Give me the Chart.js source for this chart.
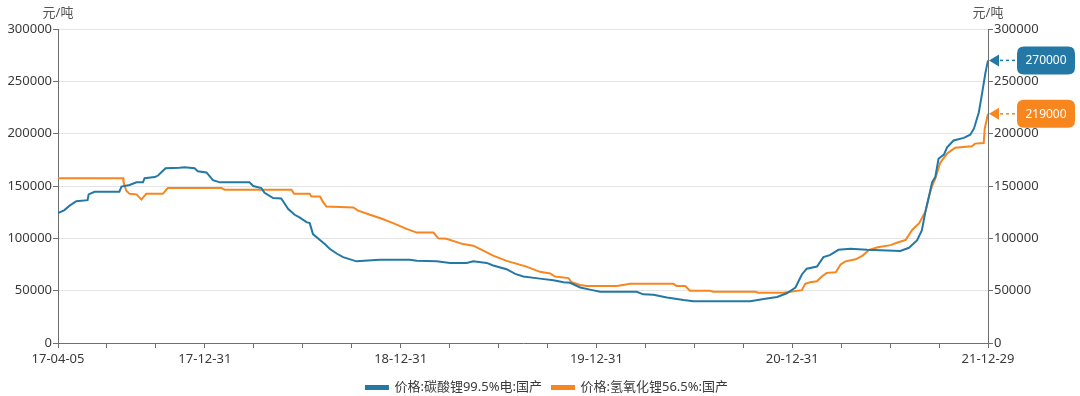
<!DOCTYPE html>
<html>
<head>
<meta charset="utf-8">
<script src="https://cdn.jsdelivr.net/npm/chart.js@4.4.1/dist/chart.umd.min.js"></script>
<style>
  html, body { margin: 0; padding: 0; background: #ffffff; }
  #wrap { width: 1080px; height: 396px; }
</style>
</head>
<body>
<div id="wrap"><canvas id="c" width="1080" height="396"></canvas></div>
<script>
// Day offsets counted from 2017-04-05
const xMax = 1729;
const tickLabels = ["17-04-05","","","17-12-31","","","","18-12-31","","","","19-12-31","","","","20-12-31","","","","21-12-29"];
const yTicks = [0, 50000, 100000, 150000, 200000, 250000, 300000];
const unitLabel = "元/吨";

const carbName = "价格:碳酸锂99.5%电:国产";
const carbDays = [0,12,21,34,55,57,68,114,118,133,146,158,161,180,186,200,226,235,254,260,276,288,301,356,363,378,384,400,415,428,440,449,462,468,474,487,496,505,518,530,555,598,654,667,704,729,760,772,797,809,834,850,865,896,921,940,952,971,989,1008,1076,1088,1107,1132,1163,1181,1287,1312,1337,1355,1371,1383,1392,1411,1423,1435,1451,1473,1504,1566,1582,1597,1606,1613,1619,1625,1631,1637,1647,1653,1665,1684,1696,1703,1712,1718,1724,1729];
const carbPrice = [124000,127000,131000,135500,136500,142000,144500,144500,149500,151000,153500,153500,157500,158500,160000,167000,167500,168000,167000,164000,163000,155500,153500,153500,150000,148000,143500,138500,138000,128000,122500,120000,115500,114500,104000,98500,94500,90000,85500,82000,78000,79500,79500,78500,78000,76500,76500,78000,76500,74000,70500,66000,63500,61500,60000,58000,57500,53000,51000,49000,49000,46500,46000,43500,41000,40000,40000,42000,44000,47500,53000,65500,71000,73000,82000,84000,89000,90000,89000,88000,91000,98000,107500,126500,139500,153500,158500,176000,180000,187000,193500,196000,199000,205000,220500,238500,257500,270000];

const hydName = "价格:氢氧化锂56.5%:国产";
const hydDays = [0,121,122,127,133,146,155,164,195,204,304,310,434,439,468,471,487,493,499,549,558,580,601,623,648,667,698,707,722,753,772,788,809,834,871,896,915,924,949,955,971,983,1039,1064,1144,1150,1166,1175,1212,1218,1296,1302,1349,1361,1383,1389,1398,1411,1420,1429,1446,1455,1464,1483,1496,1508,1524,1548,1561,1576,1588,1601,1613,1619,1625,1631,1640,1653,1661,1668,1699,1705,1721,1723,1729];
const hydPrice = [157500,157500,153500,145500,142500,142000,137000,142500,142500,148000,148000,146500,146500,142500,142500,140000,140000,134500,130500,129500,126500,122500,119000,114500,109000,105500,105500,100000,99500,94500,93000,89000,83500,78500,73000,68000,66500,63500,62000,58000,55500,54500,54500,56500,56500,54500,54500,50000,50000,49000,49000,48000,48000,49000,50500,56500,58000,59000,63500,67000,67500,75000,78000,80000,83500,89000,91500,93500,96000,98500,108000,114500,126000,139500,150000,157000,172000,181000,184000,186500,188000,190500,191000,205000,219000];

const blue = "#2478a6";
const orange = "#f7861f";
const FONT = '"Noto Sans", "Noto Sans CJK SC", sans-serif';
const axisColor = "#6e6e6e";
const textColor = "#3a3a3a";

function pts(days, vals) { return days.map((d, i) => ({ x: d, y: vals[i] })); }

const unitPlugin = {
  id: "unitTitles",
  afterDraw(chart) {
    const { ctx, chartArea } = chart;
    ctx.save();
    ctx.font = "13px " + FONT;
    ctx.fillStyle = "#555";
    ctx.textAlign = "center";
    ctx.textBaseline = "middle";
    ctx.fillText(unitLabel, chartArea.left, 13);
    ctx.fillText(unitLabel, chartArea.right, 13);
    ctx.restore();
  }
};

const legendShift = {
  id: "legendShift",
  afterLayout(chart) {
    if (chart.legend) { chart.legend.left += 7; chart.legend.right += 7; }
  }
};

function roundRect(ctx, x, y, w, h, r) {
  ctx.beginPath();
  ctx.moveTo(x + r, y);
  ctx.lineTo(x + w - r, y);
  ctx.quadraticCurveTo(x + w, y, x + w, y + r);
  ctx.lineTo(x + w, y + h - r);
  ctx.quadraticCurveTo(x + w, y + h, x + w - r, y + h);
  ctx.lineTo(x + r, y + h);
  ctx.quadraticCurveTo(x, y + h, x, y + h - r);
  ctx.lineTo(x, y + r);
  ctx.quadraticCurveTo(x, y, x + r, y);
  ctx.closePath();
}

const endTagPlugin = {
  id: "endTags",
  afterDatasetsDraw(chart) {
    const { ctx, chartArea } = chart;
    chart.data.datasets.forEach((ds, i) => {
      const meta = chart.getDatasetMeta(i);
      const last = meta.data[meta.data.length - 1];
      const val = ds.data[ds.data.length - 1].y;
      const y = last.y;
      const x0 = chartArea.right + 1;
      ctx.save();
      ctx.fillStyle = ds.borderColor;
      ctx.beginPath();
      ctx.moveTo(x0, y);
      ctx.lineTo(x0 + 10, y - 6);
      ctx.lineTo(x0 + 10, y + 6);
      ctx.closePath();
      ctx.fill();
      ctx.strokeStyle = ds.borderColor;
      ctx.lineWidth = 1.5;
      ctx.setLineDash([3, 3]);
      ctx.beginPath();
      ctx.moveTo(x0 + 11, y);
      ctx.lineTo(x0 + 28, y);
      ctx.stroke();
      ctx.setLineDash([]);
      const bx = x0 + 28, bw = 58, bh = 28;
      roundRect(ctx, bx, y - bh / 2, bw, bh, 7);
      ctx.fill();
      ctx.fillStyle = "#ffffff";
      ctx.font = "12px " + FONT;
      ctx.textAlign = "center";
      ctx.textBaseline = "middle";
      ctx.fillText(String(val), bx + bw / 2, y + 0.5);
      ctx.restore();
    });
  }
};

const yCommon = {
  min: 0, max: 300000,
  afterBuildTicks(scale) { scale.ticks = yTicks.map(v => ({ value: v })); },
  border: { display: true, color: axisColor, width: 1 },
  ticks: { color: textColor, font: { size: 13, family: FONT }, padding: 1, callback: (v) => String(v) },
};

new Chart(document.getElementById("c"), {
  type: "line",
  data: {
    datasets: [
      { label: carbName, data: pts(carbDays, carbPrice), borderColor: blue, backgroundColor: blue, borderWidth: 2, pointRadius: 0, tension: 0, yAxisID: "y" },
      { label: hydName, data: pts(hydDays, hydPrice), borderColor: orange, backgroundColor: orange, borderWidth: 2, pointRadius: 0, tension: 0, yAxisID: "y" }
    ]
  },
  options: {
    responsive: false,
    animation: false,
    layout: { padding: { top: 29, left: 0, right: 0, bottom: -8 } },
    plugins: {
      legend: {
        position: "bottom",
        labels: { boxWidth: 22, boxHeight: 3, padding: 10, color: textColor, font: { size: 13, family: FONT } }
      },
      tooltip: { enabled: false }
    },
    scales: {
      x: {
        type: "linear", min: 0, max: xMax,
        afterBuildTicks(scale) {
          scale.ticks = tickLabels.map((l, i) => ({ value: i * xMax / (tickLabels.length - 1) }));
        },
        afterFit(scale) { scale.height = 28; },
        border: { display: true, color: axisColor, width: 1 },
        grid: { display: true, drawOnChartArea: false, drawTicks: true, tickLength: 5, color: axisColor },
        ticks: { autoSkip: false, maxRotation: 0, padding: 3, color: textColor, font: { size: 13, family: FONT },
          callback: (v, i) => tickLabels[i] }
      },
      y: Object.assign({}, yCommon, {
        position: "left",
        afterFit(scale) { scale.width = 58; },
        grid: { display: true, drawOnChartArea: true, drawTicks: true, tickLength: 5, color: (c) => c.tick && c.tick.value === 0 ? "rgba(0,0,0,0)" : "#e4e4e4", tickColor: axisColor, lineWidth: 1 }
      }),
      y2: Object.assign({}, yCommon, {
        position: "right",
        afterFit(scale) { scale.width = 92; },
        grid: { display: true, drawOnChartArea: false, drawTicks: true, tickLength: 5, color: axisColor }
      })
    }
  },
  plugins: [unitPlugin, endTagPlugin, legendShift]
});
</script>
</body>
</html>
